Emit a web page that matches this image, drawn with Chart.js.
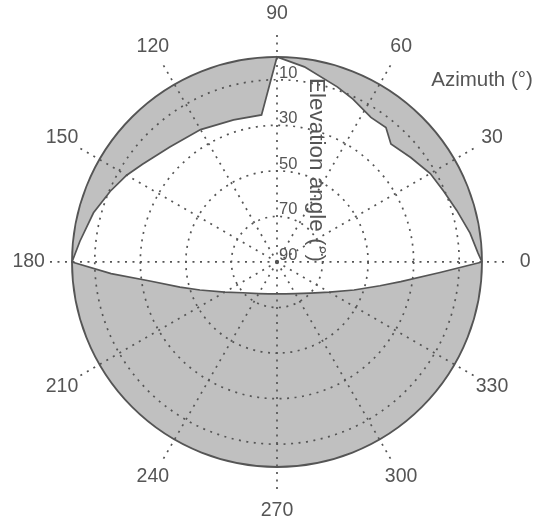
<!DOCTYPE html>
<html>
<head>
<meta charset="utf-8">
<script src="https://cdn.jsdelivr.net/npm/chart.js@4.4.1/dist/chart.umd.min.js"></script>
<style>
html,body{margin:0;padding:0;background:#ffffff;}
#wrap{width:541px;height:526px;position:relative;}
</style>
</head>
<body>
<div id="wrap"><canvas id="c"></canvas></div>
<script>
// Azimuth spokes / labels (degrees, counter-clockwise from the right)
const azimuthTicks = [0, 30, 60, 90, 120, 150, 180, 210, 240, 270, 300, 330];
// Elevation rings / labels (degrees; 90 at the centre, 0 at the rim)
const elevationTicks = [10, 30, 50, 70, 90];

// Horizon profile: azimuth (deg) -> horizon elevation (deg)
const horizonAzimuth = [0, 2.6, 8.5, 16, 23, 30, 38, 46, 51, 57, 65, 71, 82, 90,
  96, 107, 120, 133, 144, 150, 157, 165, 174, 180,
  184, 188.5, 194.5, 200, 210, 222, 240, 255, 270, 285, 300, 317, 330, 340, 347, 351, 356.3, 360];
const horizonElevation = [0, 1.7, 4.3, 7.9, 10.5, 12.3, 15.5, 18.0, 14.0, 14.3, 11.1, 8.7, 3.5, 0,
  25.1, 24.8, 22.9, 21.0, 17.0, 13.8, 10.5, 6.6, 3.0, 0,
  17, 33.6, 46, 54, 63.5, 69.8, 74, 75.5, 76, 75.5, 74, 70, 63.5, 54, 43.6, 35, 18.3, 0];

const azimuthTitle = 'Azimuth (°)';
const elevationTitle = 'Elevation angle (°)';

// radial unit = 90 - elevation
const RIM = 90;
const SPOKE_END = 100;
const LABEL_R = 109;

function toXY(az, el) {
  const r = RIM - el;
  const a = az * Math.PI / 180;
  return { x: r * Math.cos(a), y: r * Math.sin(a) };
}
const skyPoints = horizonAzimuth.map((az, i) => toXY(az, horizonElevation[i]));

const INK = '#555555';
const FONT = '"Liberation Sans", Arial, sans-serif';

const polarFrame = {
  id: 'polarFrame',
  beforeDatasetsDraw(chart) {
    const { ctx, scales: { x, y } } = chart;
    const cx = x.getPixelForValue(0), cy = y.getPixelForValue(0);
    const rp = x.getPixelForValue(RIM) - cx;
    ctx.save();
    ctx.beginPath();
    ctx.arc(cx, cy, rp, 0, 2 * Math.PI);
    ctx.fillStyle = '#c0c0c0';
    ctx.fill();
    ctx.restore();
  },
  afterDatasetsDraw(chart) {
    const { ctx, scales: { x, y } } = chart;
    const cx = x.getPixelForValue(0), cy = y.getPixelForValue(0);
    const unit = x.getPixelForValue(1) - cx;
    ctx.save();
    // dotted grid
    ctx.strokeStyle = INK;
    ctx.lineWidth = 1.7;
    ctx.setLineDash([2, 5.5]);
    elevationTicks.forEach(el => {
      const r = (RIM - el) * unit;
      if (r <= 0) return;
      ctx.beginPath();
      ctx.arc(cx, cy, r, 0, 2 * Math.PI);
      ctx.stroke();
    });
    azimuthTicks.forEach(az => {
      const p = toXY(az, RIM - SPOKE_END);
      ctx.beginPath();
      ctx.moveTo(cx, cy);
      ctx.lineTo(x.getPixelForValue(p.x), y.getPixelForValue(p.y));
      ctx.stroke();
    });
    // rim
    ctx.setLineDash([]);
    ctx.lineWidth = 1.8;
    ctx.beginPath();
    ctx.arc(cx, cy, RIM * unit, 0, 2 * Math.PI);
    ctx.stroke();

    // azimuth labels
    ctx.fillStyle = INK;
    ctx.font = '19.5px ' + FONT;
    ctx.textAlign = 'center';
    ctx.textBaseline = 'middle';
    azimuthTicks.forEach(az => {
      const p = toXY(az, RIM - LABEL_R);
      ctx.fillText(String(az), x.getPixelForValue(p.x), y.getPixelForValue(p.y));
    });
    // elevation labels
    ctx.font = '16.5px ' + FONT;
    ctx.textAlign = 'left';
    ctx.textBaseline = 'alphabetic';
    elevationTicks.forEach(el => {
      ctx.fillText(String(el), cx + 2, y.getPixelForValue(RIM - el) - 2);
    });
    // titles
    ctx.font = '20.5px ' + FONT;
    ctx.textAlign = 'center';
    ctx.fillText(azimuthTitle, x.getPixelForValue(90), y.getPixelForValue(77.3));
    ctx.save();
    ctx.font = '22.5px ' + FONT;
    ctx.translate(x.getPixelForValue(17.4), y.getPixelForValue(80.8));
    ctx.rotate(Math.PI / 2);
    ctx.textAlign = 'left';
    ctx.textBaseline = 'middle';
    ctx.fillText(elevationTitle, 0, 0);
    ctx.restore();
    ctx.restore();
  }
};

new Chart(document.getElementById('c'), {
  type: 'scatter',
  data: {
    datasets: [{
      label: 'Horizon',
      data: skyPoints,
      showLine: true,
      fill: 'shape',
      backgroundColor: '#ffffff',
      borderColor: INK,
      borderWidth: 1.7,
      pointRadius: 0,
      tension: 0
    }]
  },
  options: {
    responsive: true,
    maintainAspectRatio: false,
    animation: false,
    layout: { padding: 0 },
    scales: {
      x: { type: 'linear', min: -121.6, max: 115.9, display: false },
      y: { type: 'linear', min: -115.9, max: 115.0, display: false }
    },
    plugins: {
      legend: { display: false },
      tooltip: { enabled: false },
      title: { display: false }
    }
  },
  plugins: [polarFrame]
});
</script>
</body>
</html>
